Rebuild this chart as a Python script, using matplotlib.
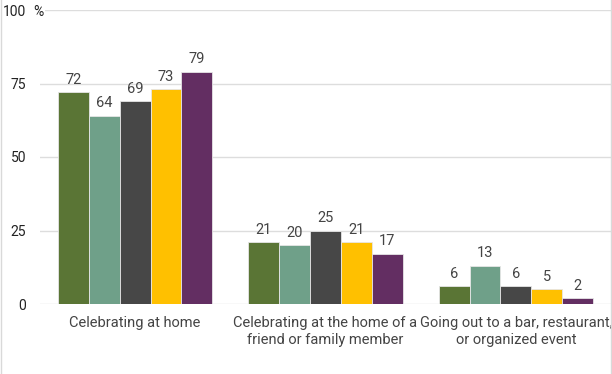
import matplotlib.pyplot as plt
import numpy as np

plt.rcParams['font.family'] = ['Roboto', 'DejaVu Sans']

categories = ['Celebrating at home',
              'Celebrating at the home of a\nfriend or family member',
              'Going out to a bar, restaurant,\nor organized event']
series = [
    [72, 21, 6],
    [64, 20, 13],
    [69, 25, 6],
    [73, 21, 5],
    [79, 17, 2],
]
colors = ['#5A7535', '#6FA089', '#474747', '#FFC000', '#632E62']
yticks = [0, 25, 50, 75, 100]

fig = plt.figure(figsize=(6.12, 3.74), dpi=100)
ax = fig.add_axes([40/612, 1 - 304/374, 571/612, 294/374])

x = np.arange(len(categories))
w = 0.162
for i, vals in enumerate(series):
    pos = x + (i - 2) * w
    ax.bar(pos, vals, w, color=colors[i], edgecolor='#e6e6e6', linewidth=0.6, zorder=3)
    for p, v in zip(pos, vals):
        ax.annotate(str(v), (p, v), xytext=(0, 4), textcoords='offset points',
                    ha='center', va='bottom', fontsize=10.5, color='#444444')

ax.set_xlim(-0.5, 2.5)
ax.set_ylim(0, 100)
ax.set_yticks(yticks)
ax.set_yticklabels([str(t) for t in yticks], fontsize=10, color='#222222')
ax.set_xticks(x)
ax.set_xticklabels(categories, fontsize=10.5, color='#444444', linespacing=1.2)
ax.tick_params(length=0)
ax.tick_params(axis='y', pad=10)
ax.tick_params(axis='x', pad=9)
ax.grid(axis='y', color='#dddddd', linewidth=1, zorder=0)
for s in ax.spines.values():
    s.set_visible(False)
ax.annotate('%', (-0.5, 100), xytext=(-5, 0), textcoords='offset points',
            ha='left', va='center_baseline', fontsize=10, color='#222222',
            bbox=dict(boxstyle='square,pad=0.1', fc='white', ec='none'), zorder=5)

# light side lines of the frame
for xf in (0.5/612, 611/612):
    fig.add_artist(plt.Line2D([xf, xf], [0, 1], transform=fig.transFigure,
                              color='#d9d9d9', linewidth=1))

fig.savefig('out.png', dpi=100)
